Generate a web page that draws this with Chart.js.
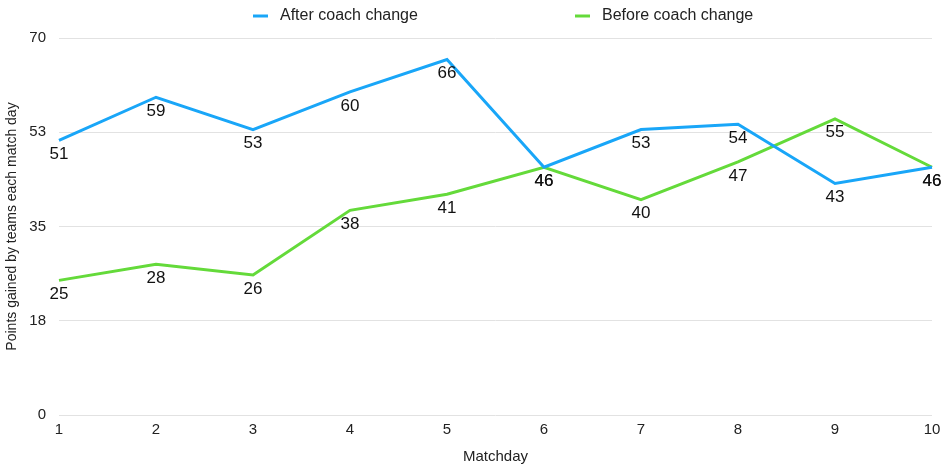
<!DOCTYPE html>
<html>
<head>
<meta charset="utf-8">
<script src="https://cdn.jsdelivr.net/npm/chart.js@4"></script>
<style>
  html, body { margin: 0; padding: 0; background: #fff; }
  #wrap { width: 947px; height: 466px; }
</style>
</head>
<body>
<div id="wrap"><canvas id="myChart" width="947" height="466"></canvas></div>
<script>
  const matchdays = ['1', '2', '3', '4', '5', '6', '7', '8', '9', '10'];
  const afterChange = [51, 59, 53, 60, 66, 46, 53, 54, 43, 46];
  const beforeChange = [25, 28, 26, 38, 41, 46, 40, 47, 55, 46];

  const FONT = '"Liberation Sans", Arial, sans-serif';

  // value labels drawn under each point
  const pointLabels = {
    id: 'pointLabels',
    afterDatasetsDraw(chart) {
      const ctx = chart.ctx;
      ctx.save();
      ctx.font = '17px ' + FONT;
      ctx.fillStyle = '#111';
      ctx.textAlign = 'center';
      ctx.textBaseline = 'middle';
      chart.data.datasets.forEach((ds, i) => {
        chart.getDatasetMeta(i).data.forEach((pt, j) => {
          ctx.fillText(ds.data[j], pt.x, pt.y + 14);
        });
      });
      ctx.restore();
    }
  };

  // wide-spaced legend along the top
  const topLegend = {
    id: 'topLegend',
    afterDraw(chart) {
      const ctx = chart.ctx;
      const starts = [253, 575];
      ctx.save();
      ctx.font = '16px ' + FONT;
      ctx.textBaseline = 'middle';
      chart.data.datasets.forEach((ds, i) => {
        const x = starts[i], y = 16;
        ctx.strokeStyle = ds.borderColor;
        ctx.lineWidth = 3;
        ctx.beginPath();
        ctx.moveTo(x, y);
        ctx.lineTo(x + 15, y);
        ctx.stroke();
        ctx.fillStyle = '#222';
        ctx.fillText(ds.label, x + 27, y);
      });
      ctx.restore();
    }
  };

  Chart.defaults.font.family = FONT;
  Chart.defaults.color = '#222';

  const ctx = document.getElementById('myChart').getContext('2d');
  const myChart = new Chart(ctx, {
    type: 'line',
    data: {
      labels: matchdays,
      datasets: [{
        label: 'After coach change',
        data: afterChange,
        borderColor: '#19A6F8',
        backgroundColor: '#19A6F8',
        borderWidth: 3,
        pointRadius: 0,
        tension: 0
      }, {
        label: 'Before coach change',
        data: beforeChange,
        borderColor: '#64DA3A',
        backgroundColor: '#64DA3A',
        borderWidth: 3,
        pointRadius: 0,
        tension: 0
      }]
    },
    options: {
      responsive: false,
      animation: false,
      layout: { padding: { left: 2, right: 15, top: 38, bottom: 0 } },
      plugins: {
        legend: { display: false },
        tooltip: { enabled: false }
      },
      scales: {
        x: {
          grid: { display: false, drawTicks: false },
          border: { display: false },
          ticks: { font: { size: 15 }, color: '#222', padding: 6, maxRotation: 0 },
          title: { display: true, text: 'Matchday', font: { size: 15 }, color: '#222', padding: { top: 0, bottom: 0 } },
          afterFit: s => { s.height = 51; }
        },
        y: {
          min: 0,
          max: 70,
          grid: { color: '#e2e2e2', drawTicks: false },
          border: { display: false },
          ticks: {
            stepSize: 17.5,
            font: { size: 15 },
            color: '#222',
            padding: 13,
            callback: v => Math.round(v)
          },
          title: { display: true, text: 'Points gained by teams each match day', font: { size: 14 }, color: '#222', padding: { top: 2, bottom: 0 } },
          afterFit: s => { s.width = 57; }
        }
      }
    },
    plugins: [pointLabels, topLegend]
  });
</script>
</body>
</html>
